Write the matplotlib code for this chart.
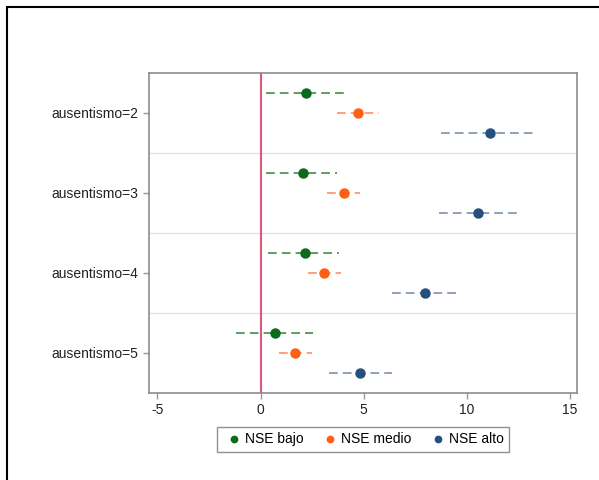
import matplotlib
matplotlib.use("Agg")
import matplotlib.pyplot as plt
from matplotlib.patches import Rectangle

plt.rcParams["font.family"] = ["Liberation Sans", "DejaVu Sans"]
plt.rcParams["axes.unicode_minus"] = False

# data: coeficientes y IC por grupo de ausentismo
categorias = ["ausentismo=2", "ausentismo=3", "ausentismo=4", "ausentismo=5"]
grupos = ["NSE bajo", "NSE medio", "NSE alto"]

bajo_coef = [2.18, 2.04, 2.13, 0.68]
bajo_lo = [0.26, 0.26, 0.34, -1.21]
bajo_hi = [4.04, 3.69, 3.79, 2.55]

medio_coef = [4.74, 4.03, 3.07, 1.68]
medio_lo = [3.72, 3.23, 2.31, 0.90]
medio_hi = [5.76, 4.82, 3.88, 2.48]

alto_coef = [11.13, 10.55, 7.96, 4.82]
alto_lo = [8.75, 8.67, 6.36, 3.30]
alto_hi = [13.36, 12.43, 9.64, 6.39]

series = [
    (bajo_coef, bajo_lo, bajo_hi, "#0b6b1c", "#5e9e62", -1),
    (medio_coef, medio_lo, medio_hi, "#ff5e14", "#ff9f78", 0),
    (alto_coef, alto_lo, alto_hi, "#23507e", "#8da2bd", 1),
]

fig = plt.figure(figsize=(5.99, 4.8), dpi=100)
ax = fig.add_axes([149 / 599, 1 - 393 / 480, 428 / 599, 320 / 480])

centros = [4 * i + 2 for i in range(len(categorias))]

for (coef, lo, hi, col, col_ci, off), nombre in zip(series, grupos):
    ys = [c + off for c in centros]
    for y, l, h in zip(ys, lo, hi):
        ax.plot([l, h], [y, y], color=col_ci, linewidth=1.4,
                linestyle=(0, (4.5, 2.6)), zorder=2)
    ax.plot(coef, ys, "o", color=col, markersize=6.5, label=nombre, zorder=3)

# linea de referencia en 0
ax.axvline(0, color="#d9577a", linewidth=1.5, zorder=1)

# separadores entre grupos
for s in [4, 8, 12]:
    ax.axhline(s, color="#e2e2e2", linewidth=1.0, zorder=0)

ax.set_xlim(-5.41, 15.34)
ax.set_ylim(16, 0)
ax.set_xticks([-5, 0, 5, 10, 15])
ax.set_yticks(centros)
ax.set_yticklabels(categorias)
ax.tick_params(axis="both", labelsize=10, colors="#999999", labelcolor="#222222",
               length=4, width=1)

for sp in ax.spines.values():
    sp.set_color("#8c8c8c")
    sp.set_linewidth(1.2)

leg = ax.legend(loc="upper center", bbox_to_anchor=(0.5, -0.085), ncol=3,
                frameon=True, fancybox=False, fontsize=10, handletextpad=0.0,
                columnspacing=1.1, markerscale=0.7, borderpad=0.38,
                handlelength=1.6)
leg.get_frame().set_edgecolor("#777777")
leg.get_frame().set_linewidth(1.0)

# marco exterior
fig.patches.append(Rectangle((7 / 599, -0.1), 1.2, 1.1 - 7 / 480,
                             transform=fig.transFigure, fill=False,
                             edgecolor="black", linewidth=1.5))

fig.savefig("out.png", dpi=100)
plt.close()
